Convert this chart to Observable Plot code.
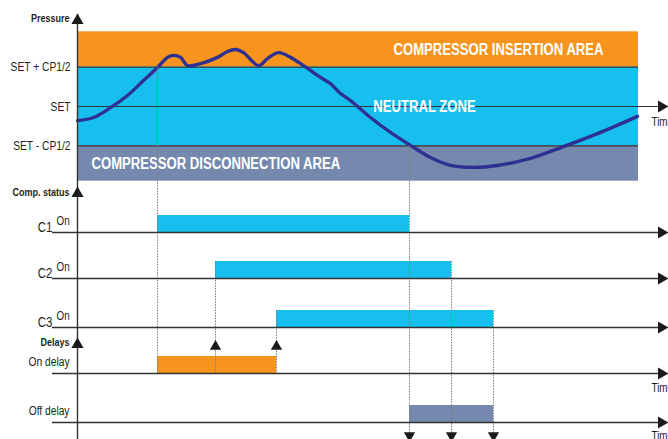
<!DOCTYPE html>
<html>
<head>
<meta charset="utf-8">
<script src="https://cdn.jsdelivr.net/npm/d3@7"></script>
<script src="https://cdn.jsdelivr.net/npm/@observablehq/plot@0.6"></script>
<style>
  html, body { margin: 0; padding: 0; background: #fff; overflow: hidden; }
  #chart svg { display: block; }
</style>
</head>
<body>
<div id="chart"></div>
<script>
// ---------------- DATA ----------------
// Pressure bands, in units of CP1/2 relative to SET
const bandNames = ["COMPRESSOR INSERTION AREA", "NEUTRAL ZONE", "COMPRESSOR DISCONNECTION AREA"];
const bandLow = [1, -1, -1.9];
const bandHigh = [1.9, 1, -1];
const pressureTickLabels = ["SET + CP1/2", "SET", "SET - CP1/2"];
const pressureTickValues = [1, 0, -1];

// Pressure curve (time units, pressure in CP1/2 units relative to SET)
const curveTime = [0, 16, 33, 50, 66, 80, 90, 96, 103, 110, 123, 140, 150, 158, 166, 181, 190, 201, 213, 226, 243, 253, 263, 273, 293, 313, 333, 353, 373, 396, 420, 453, 486, 520, 560];
const curvePressure = [-0.36, -0.28, -0.03, 0.28, 0.66, 0.99, 1.25, 1.30, 1.25, 1.04, 1.09, 1.25, 1.40, 1.45, 1.37, 1.04, 1.22, 1.37, 1.25, 1.04, 0.74, 0.58, 0.33, 0.15, -0.28, -0.66, -0.99, -1.30, -1.50, -1.55, -1.50, -1.32, -1.02, -0.69, -0.25];

// Compressor status
const compressors = ["C1", "C2", "C3"];
const compOn = [80, 138, 199];
const compOff = [332, 374, 416];
const statusLabel = "On";

// Delays
const delayNames = ["On delay", "Off delay"];

// Axis titles
const axisTitles = ["Pressure", "Comp. status", "Delays"];
const timeLabel = "Time";
const timeEnd = 561;

// ---------------- LAYOUT / STYLE ----------------
const pY = p => 106 - 39.3 * p;              // pressure -> vertical position
const compBase = [232, 278, 327];            // row baselines
const delayBase = [373, 422];
const barH = 17;
const titleY = [18, 192, 342];
const axisArrowY = [20, 193, 344];
const arrowEnd = 584;
const rowStart = -25;
const colors = {
  orange: "#f7941d", blue: "#17bfef", slate: "#7589ae", curve: "#2e3192",
  line: "#333", dotted: "#7d7d7d", text: "#231f20"
};
const bandColors = [colors.orange, colors.blue, colors.slate];
const font = "'Liberation Sans', Arial, Helvetica, sans-serif";
const condense = 0.82;

// ---------------- BUILD TABLES ----------------
const bands = bandNames.map((name, i) => ({name, lo: bandLow[i], hi: bandHigh[i], fill: bandColors[i]}));
const bandTextCenter = [
  {name: bandNames[0], t: 421, p: 1.45},
  {name: bandNames[1], t: 347, p: 0}
];
const bandTextStart = [{name: bandNames[2], t: 14, p: -1.47}];
const ticks = pressureTickLabels.map((label, i) => ({label, p: pressureTickValues[i]}));
const curve = curveTime.map((t, i) => ({t, p: curvePressure[i]}));
const comp = compressors.map((name, i) => ({name, on: compOn[i], off: compOff[i], base: compBase[i]}));
const delays = [
  {name: delayNames[0], from: compOn[0], to: compOn[compOn.length - 1], base: delayBase[0], fill: colors.orange},
  {name: delayNames[1], from: compOff[0], to: compOff[compOff.length - 1], base: delayBase[1], fill: colors.slate}
];
// dotted event lines
const events = [
  {t: compOn[0], y1: pY(1), y2: delayBase[0]},
  {t: compOn[1], y1: compBase[1] - barH, y2: delayBase[0]},
  {t: compOn[2], y1: compBase[2] - barH, y2: delayBase[0]},
  {t: compOff[0], y1: pY(-1), y2: 440},
  {t: compOff[1], y1: compBase[1] - barH, y2: 440},
  {t: compOff[2], y1: compBase[2] - barH, y2: 440}
];
const upArrows = compOn.slice(1).map(t => ({t, y: 346}));
const downArrows = compOff.map(t => ({t, y: 435}));
const rightArrows = [pY(0), ...compBase, ...delayBase].map(y => ({t: arrowEnd, y}));
const axisArrows = axisArrowY.map(y => ({t: 0, y}));
const titles = axisTitles.map((label, i) => ({label, y: titleY[i]}));
const rowLines = [...compBase, ...delayBase].map(y => ({y}));
const timeLabels = [pY(0) + 16, delayBase[0] + 15, delayBase[1] + 14].map(y => ({y}));

const chart = Plot.plot({
  width: 668,
  height: 439,
  margin: 0,
  x: {domain: [-77, 591], axis: null},
  y: {domain: [0, 439], range: [0, 439], axis: null},
  color: {type: "identity"},
  style: {fontFamily: font, background: "#fff", color: colors.text},
  marks: [
    // pressure bands
    Plot.rect(bands, {x1: () => 0, x2: () => timeEnd, y1: d => pY(d.hi), y2: d => pY(d.lo), fill: "fill"}),
    Plot.ruleY([1, -1], {y: d => pY(d), x1: () => 0, x2: () => timeEnd, stroke: colors.line, strokeWidth: 1.2}),
    Plot.ruleY([0], {y: d => pY(d), x1: () => 0, x2: () => arrowEnd, stroke: colors.line, strokeWidth: 1.2}),
    Plot.text(bandTextCenter, {x: "t", y: d => pY(d.p), text: "name", textAnchor: "middle", fill: "#fff", fontWeight: "bold", fontSize: 16}),
    Plot.text(bandTextStart, {x: "t", y: d => pY(d.p), text: "name", textAnchor: "start", fill: "#fff", fontWeight: "bold", fontSize: 16}),
    // pressure curve
    Plot.line(curve, {x: "t", y: d => pY(d.p), stroke: colors.curve, strokeWidth: 3.4, curve: "catmull-rom"}),
    // status bars
    Plot.rect(comp, {x1: "on", x2: "off", y1: d => d.base - barH, y2: "base", fill: colors.blue}),
    Plot.rect(delays, {x1: "from", x2: "to", y1: d => d.base - barH, y2: "base", fill: "fill"}),
    // dotted event lines
    Plot.ruleX(events, {x: "t", y1: "y1", y2: "y2", stroke: colors.dotted, strokeWidth: 1, strokeDasharray: "1.5,1.2"}),
    // row baselines
    Plot.ruleY(rowLines, {y: "y", x1: () => rowStart, x2: () => arrowEnd, stroke: colors.line, strokeWidth: 1.4}),
    // vertical axis
    Plot.ruleX([0], {x: d => d, y1: () => 14, y2: () => 439, stroke: colors.line, strokeWidth: 1.4}),
    // arrows
    Plot.dot(axisArrows, {x: "t", y: "y", symbol: "triangle", r: 4.5, fill: "#1a1a1a", stroke: "none"}),
    Plot.dot(rightArrows, {x: "t", y: "y", symbol: "triangle", r: 4.5, rotate: 90, fill: "#1a1a1a", stroke: "none"}),
    Plot.dot(upArrows, {x: "t", y: "y", symbol: "triangle", r: 4.2, fill: "#1a1a1a", stroke: "none"}),
    Plot.dot(downArrows, {x: "t", y: "y", symbol: "triangle", r: 4.2, rotate: 180, fill: "#1a1a1a", stroke: "none"}),
    // text labels
    Plot.text(titles, {x: () => -8, y: "y", text: "label", textAnchor: "end", fontWeight: "bold", fontSize: 11, fill: colors.text}),
    Plot.text(ticks, {x: () => -7, y: d => pY(d.p), text: "label", textAnchor: "end", fontSize: 12.5, fill: colors.text}),
    Plot.text(comp, {x: () => rowStart, y: d => d.base - 5, text: "name", textAnchor: "end", fontSize: 14, fill: colors.text}),
    Plot.text(comp, {x: () => rowStart + 4, y: d => d.base - 11, text: () => statusLabel, textAnchor: "start", fontSize: 12, fill: colors.text}),
    Plot.text(delays, {x: () => -8, y: d => d.base - 12, text: "name", textAnchor: "end", fontSize: 12.5, fill: colors.text}),
    Plot.text(timeLabels, {x: () => 574, y: "y", text: () => timeLabel, textAnchor: "start", fontSize: 12, fill: colors.text})
  ]
});

// condense all text horizontally (narrow Helvetica look), keeping anchors in place
d3.select(chart).selectAll("text").each(function() {
  const el = this;
  const tr = el.getAttribute("transform");
  if (tr) {
    el.setAttribute("transform", tr + ` scale(${condense},1)`);
  } else {
    const x = +(el.getAttribute("x") || 0), y = +(el.getAttribute("y") || 0);
    el.removeAttribute("x"); el.removeAttribute("y");
    el.setAttribute("transform", `translate(${x},${y}) scale(${condense},1)`);
  }
});

document.getElementById("chart").appendChild(chart);
</script>
</body>
</html>
